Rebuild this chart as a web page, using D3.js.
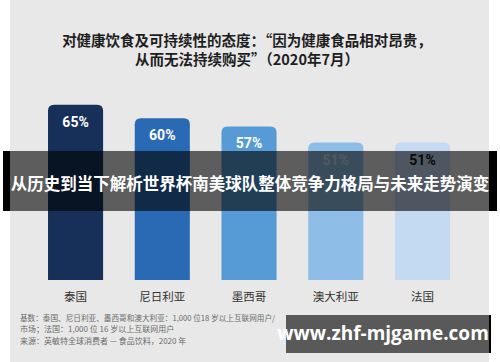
<!DOCTYPE html>
<html><head><meta charset="utf-8">
<script src="https://cdn.jsdelivr.net/npm/d3@7"></script>
<style>
html,body{margin:0;padding:0;background:#fff;}
svg{display:block;}
text{font-family:"Noto Sans CJK SC","Noto Sans",sans-serif;}
</style></head>
<body>
<svg id="chart" width="500" height="362"></svg>
<script>
const titleLines = ["对健康饮食及可持续性的态度：“因为健康食品相对昂贵，", "从而无法持续购买”（2020年7月）"];
const categories = ["泰国", "尼日利亚", "墨西哥", "澳大利亚", "法国"];
const values = [65, 60, 57, 51, 51];
const barColors = ["#16305a", "#2a6ab4", "#569bd5", "#8ebde7", "#c3daf2"];
const labelColors = ["#ffffff", "#ffffff", "#ffffff", "#cfdcea", "#151515"];
const footnotes = [
  "基数：泰国、尼日利亚、墨西哥和澳大利亚：1,000 位18 岁以上互联网用户/",
  "市场；法国：1,000 位 16 岁以上互联网用户",
  "来源：英敏特全球消费者 — 食品饮料，2020 年"
];
const bannerText = "从历史到当下解析世界杯南美球队整体竞争力格局与未来走势演变";
const watermark = "www.zhf-mjgame.com";

const svg = d3.select("#chart");
svg.append("rect").attr("x", 10).attr("y", 0).attr("width", 479).attr("height", 362).attr("fill", "#e8e8e8");

svg.selectAll("text.title").data(titleLines).join("text")
  .attr("class", "title")
  .attr("x", 247).attr("y", (d, i) => 46 + i * 19)
  .attr("text-anchor", "middle")
  .attr("font-size", 14.5).attr("font-weight", 700).attr("fill", "#1e1e1e")
  .text(d => d);

const x = d3.scaleBand().domain(categories).range([32.4, 465.7]).paddingInner(0.365).paddingOuter(0.18);
const y = d3.scaleLinear().domain([0, 100]).range([280, 10.5]);

const r = 6;
function barPath(x0, y0, w, h) {
  return `M${x0},${y0 + h}V${y0 + r}Q${x0},${y0} ${x0 + r},${y0}H${x0 + w - r}Q${x0 + w},${y0} ${x0 + w},${y0 + r}V${y0 + h}Z`;
}
const data = categories.map((c, i) => ({c, v: values[i], i}));
svg.selectAll("path.bar").data(data).join("path")
  .attr("class", "bar")
  .attr("d", d => barPath(x(d.c), y(d.v), x.bandwidth(), y(0) - y(d.v)))
  .attr("fill", d => barColors[d.i]);

svg.selectAll("text.val").data(data).join("text")
  .attr("class", "val")
  .attr("x", d => x(d.c) + x.bandwidth() / 2)
  .attr("y", d => y(d.v) + 22)
  .attr("text-anchor", "middle")
  .style("font-family", "Roboto, sans-serif")
  .attr("font-size", 14).attr("font-weight", 700)
  .attr("fill", d => labelColors[d.i])
  .text(d => d.v + "%");

svg.selectAll("text.cat").data(data).join("text")
  .attr("class", "cat")
  .attr("x", d => x(d.c) + x.bandwidth() / 2)
  .attr("y", 301)
  .attr("text-anchor", "middle")
  .attr("font-size", 11.5).attr("fill", "#333")
  .text(d => d.c);

svg.selectAll("text.foot").data(footnotes).join("text")
  .attr("class", "foot")
  .attr("x", 20).attr("y", (d, i) => 321 + i * 11.3)
  .attr("font-size", 8).attr("fill", "#6a6a6a")
  .attr("textLength", (d, i) => i === 0 ? 255 : null)
  .attr("lengthAdjust", "spacingAndGlyphs")
  .text(d => d);

svg.append("rect").attr("x", 3).attr("y", 151).attr("width", 494).attr("height", 60).attr("fill", "#000").attr("fill-opacity", 0.6);
svg.append("rect").attr("x", 3).attr("y", 151).attr("width", 7).attr("height", 60).attr("fill", "#000");
svg.append("rect").attr("x", 489).attr("y", 151).attr("width", 8).attr("height", 60).attr("fill", "#000");
svg.append("text").attr("x", 250).attr("y", 189.5)
  .attr("text-anchor", "middle").attr("font-size", 16.5).attr("font-weight", 700)
  .attr("fill", "#fff")
  .text(bannerText);

svg.append("rect").attr("x", 286).attr("y", 315).attr("width", 204).attr("height", 38).attr("fill", "#595959");
svg.append("rect").attr("x", 489).attr("y", 315).attr("width", 2).attr("height", 38).attr("fill", "#000");
svg.append("text").attr("x", 383).attr("y", 340)
  .attr("text-anchor", "middle").style("font-family", "'Open Sans', sans-serif")
  .attr("font-size", 19).attr("font-weight", 700).attr("fill", "#fff")
  .text(watermark);
</script>
</body></html>
